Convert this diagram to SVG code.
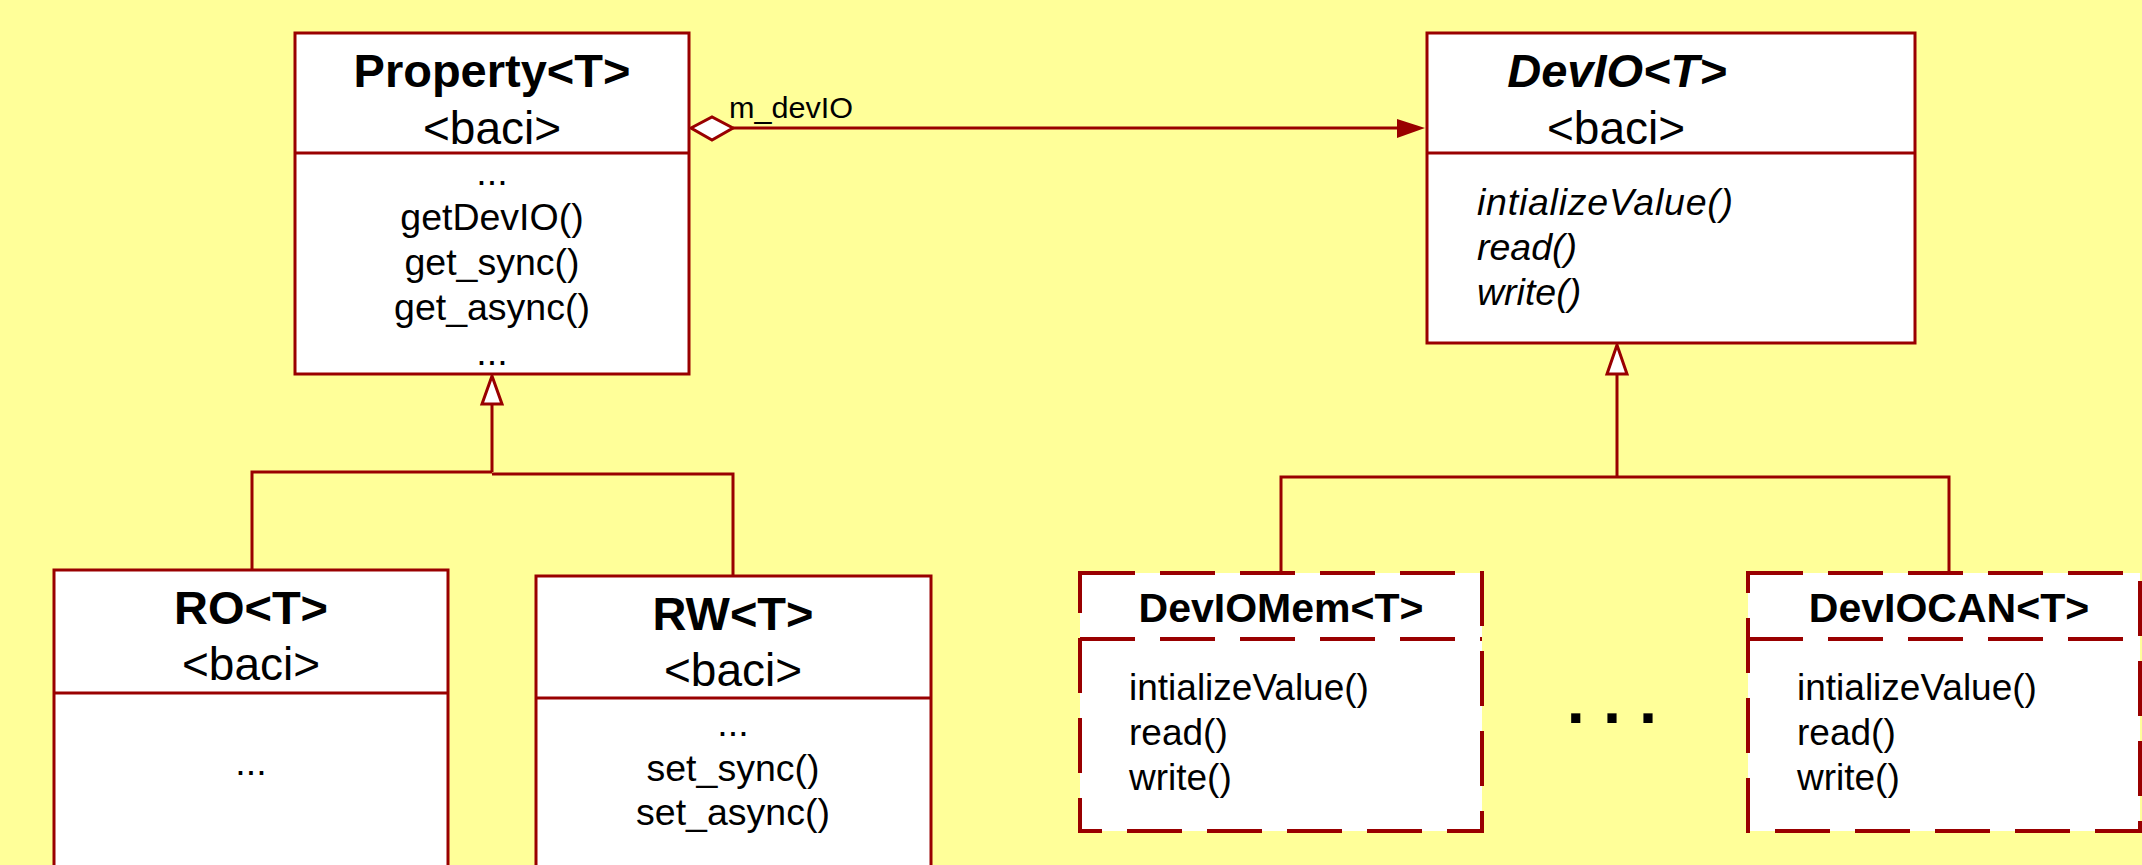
<svg xmlns="http://www.w3.org/2000/svg" width="2142" height="865" viewBox="0 0 2142 865">
<style>
.box{fill:#fff;stroke:#990000;stroke-width:3}
.dbox{fill:#fff;stroke:#990000;stroke-width:4;stroke-dasharray:55 25}
.ln{fill:none;stroke:#990000;stroke-width:3}
.dl{fill:none;stroke:#990000;stroke-width:4;stroke-dasharray:55 25}
text{font-family:"Liberation Sans",Arial,sans-serif;fill:#000}
.t{font-size:47px;font-weight:bold;text-anchor:middle}
.ti{font-size:47px;font-weight:bold;font-style:italic;text-anchor:middle}
.s{font-size:46px;text-anchor:middle}
.m{font-size:37.5px;text-anchor:middle}
.ml{font-size:37px}
.mi{font-size:37.5px;font-style:italic}
.t2{font-size:41px;font-weight:bold;text-anchor:middle}
.lbl{font-size:29px}
</style>
<rect x="0" y="0" width="2142" height="865" fill="#FFFF99"/>
<g id="connectors">
<path class="ln" d="M733,128 H1400"/>
<polygon points="691,128 712,117 733,128 712,140" fill="#fff" stroke="#990000" stroke-width="3"/>
<polygon points="1425,128 1397,119 1397,138" fill="#990000"/>
<text class="lbl" x="729" y="118" textLength="124" lengthAdjust="spacingAndGlyphs">m_devIO</text>
<path class="ln" d="M492,404 V472 M252,570 V472 H492 M492,474 H733 V576"/>
<polygon points="492,376 482,404 502,404" fill="#fff" stroke="#990000" stroke-width="3"/>
<path class="ln" d="M1617,374 V477 M1281,573 V477 H1949 V573"/>
<polygon points="1617,345 1607,374 1627,374" fill="#fff" stroke="#990000" stroke-width="3"/>
</g>
<g id="property">
<rect class="box" x="295" y="33" width="394" height="341"/>
<path class="ln" d="M295,153 H689"/>
<text class="t" x="492" y="87">Property&lt;T&gt;</text>
<text class="s" x="492" y="144">&lt;baci&gt;</text>
<text class="m" x="492" y="185">...</text>
<text class="m" x="492" y="230">getDevIO()</text>
<text class="m" x="492" y="275">get_sync()</text>
<text class="m" x="492" y="320">get_async()</text>
<text class="m" x="492" y="365">...</text>
</g>
<g id="devio">
<rect class="box" x="1427" y="33" width="488" height="310"/>
<path class="ln" d="M1427,153 H1915"/>
<text class="ti" x="1617" y="87">DevIO&lt;T&gt;</text>
<text class="s" x="1616" y="144">&lt;baci&gt;</text>
<text class="mi" x="1477" y="215" textLength="256">intializeValue()</text>
<text class="mi" x="1477" y="260">read()</text>
<text class="mi" x="1477" y="305">write()</text>
</g>
<g id="ro">
<rect class="box" x="54" y="570" width="394" height="310"/>
<path class="ln" d="M54,693 H448"/>
<text class="t" x="251" y="624">RO&lt;T&gt;</text>
<text class="s" x="251" y="680">&lt;baci&gt;</text>
<text class="m" x="251" y="775">...</text>
</g>
<g id="rw">
<rect class="box" x="536" y="576" width="395" height="310"/>
<path class="ln" d="M536,698 H931"/>
<text class="t" x="733" y="630">RW&lt;T&gt;</text>
<text class="s" x="733" y="686">&lt;baci&gt;</text>
<text class="m" x="733" y="736">...</text>
<text class="m" x="733" y="781">set_sync()</text>
<text class="m" x="733" y="825">set_async()</text>
</g>
<g id="deviomem">
<rect class="dbox" x="1080" y="573" width="402" height="258"/>
<path class="dl" d="M1080,639 H1482"/>
<text class="t2" x="1281" y="622">DevIOMem&lt;T&gt;</text>
<text class="ml" x="1129" y="700">intializeValue()</text>
<text class="ml" x="1129" y="745">read()</text>
<text class="ml" x="1129" y="790">write()</text>
</g>
<g id="dots">
<text x="1612" y="723" style="font-size:65px;font-weight:bold;text-anchor:middle">. . .</text>
</g>
<g id="deviocan">
<rect class="dbox" x="1748" y="573" width="392" height="258"/>
<path class="dl" d="M1748,639 H2140"/>
<text class="t2" x="1949" y="622">DevIOCAN&lt;T&gt;</text>
<text class="ml" x="1797" y="700">intializeValue()</text>
<text class="ml" x="1797" y="745">read()</text>
<text class="ml" x="1797" y="790">write()</text>
</g>
</svg>
